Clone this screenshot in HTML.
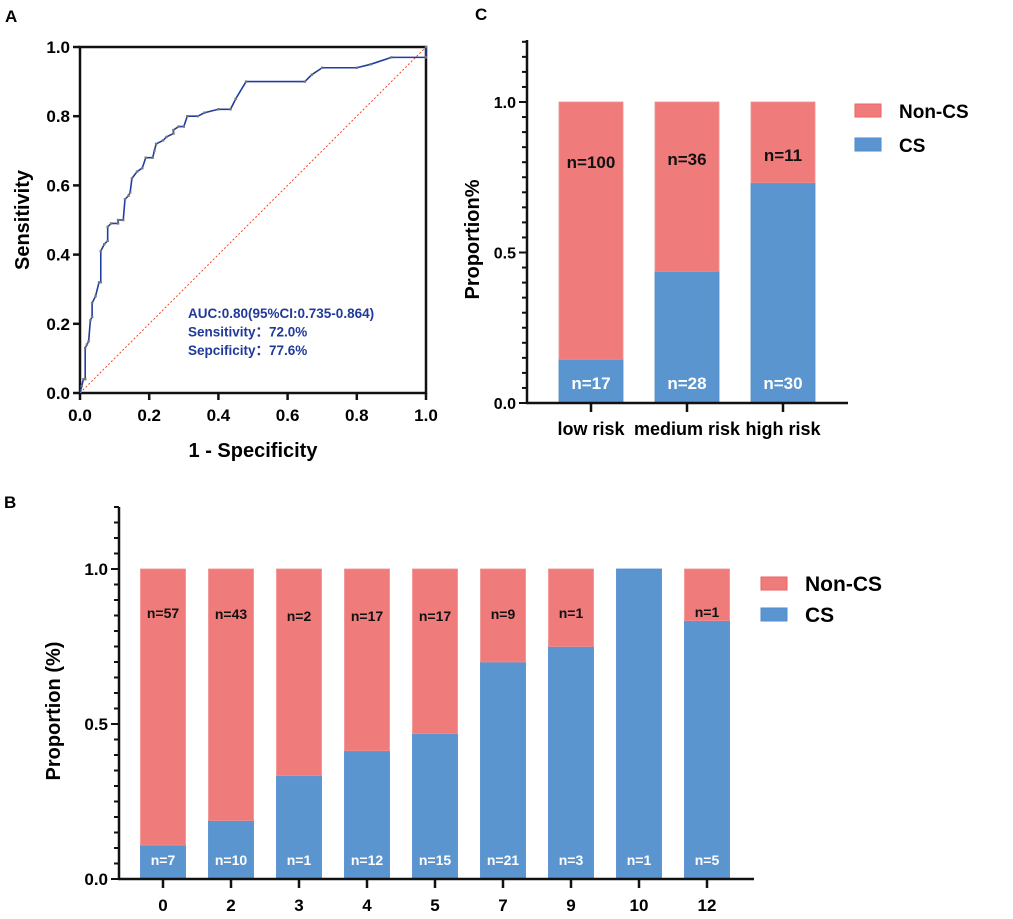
<!DOCTYPE html>
<html><head><meta charset="utf-8">
<style>
html,body{margin:0;padding:0;background:#fff;}
svg{display:block;font-family:"Liberation Sans",Arial,sans-serif;}
</style></head>
<body>
<svg id="fig" width="1013" height="919" viewBox="0 0 1013 919" xmlns="http://www.w3.org/2000/svg">
<g id="panelA"></g>
<g id="panelC"></g>
<g id="panelB"></g>
</svg>
<script>
// ROC data
const rocFpr = [0,0.005,0.01,0.015,0.015,0.02,0.025,0.03,0.035,0.035,0.045,0.055,0.06,0.06,0.07,0.08,0.08,0.09,0.11,0.11,0.125,0.13,0.14,0.145,0.15,0.165,0.18,0.19,0.21,0.215,0.22,0.24,0.25,0.27,0.27,0.285,0.3,0.31,0.34,0.36,0.4,0.435,0.45,0.48,0.65,0.67,0.7,0.8,0.84,0.9,1,1];
const rocTpr = [0,0.02,0.04,0.04,0.13,0.14,0.15,0.21,0.22,0.26,0.28,0.32,0.32,0.41,0.43,0.44,0.48,0.49,0.49,0.50,0.50,0.56,0.57,0.58,0.62,0.64,0.65,0.68,0.68,0.70,0.72,0.73,0.74,0.75,0.76,0.77,0.77,0.80,0.80,0.81,0.82,0.82,0.85,0.90,0.90,0.92,0.94,0.94,0.95,0.97,0.97,1];
const rocTicks = [0,0.2,0.4,0.6,0.8,1.0];
const rocTickLabels = ["0.0","0.2","0.4","0.6","0.8","1.0"];
// Panel C data
const riskCategories = ["low risk","medium risk","high risk"];
const riskCS = [17,28,30];
const riskNonCS = [100,36,11];
// Panel B data
const scoreCategories = ["0","2","3","4","5","7","9","10","12"];
const scoreCS = [7,10,1,12,15,21,3,1,5];
const scoreNonCS = [57,43,2,17,17,9,1,0,1];
const barTicks = [0,0.5,1.0];
const barTickLabels = ["0.0","0.5","1.0"];

const NS="http://www.w3.org/2000/svg";
function mk(parent,tag,attrs,text){const e=document.createElementNS(NS,tag);for(const k in attrs)e.setAttribute(k,attrs[k]);if(text!==undefined)e.textContent=text;parent.appendChild(e);return e;}
const RED="#ef7b7b", BLUE="#5b95cf";

// ---------- Panel A ----------
(function(){
  const g=document.getElementById('panelA');
  const x0=80,x1=426,y0=393,y1=47;
  const sx=v=>x0+v*(x1-x0), sy=v=>y0-v*(y0-y1);
  let t=mk(g,'text',{x:5,y:22,'font-size':17,'font-weight':'bold'},'A');
  
  
  let r=mk(g,'rect',{x:x0,y:y1,width:x1-x0,height:y0-y1,fill:'none',stroke:'#111','stroke-width':2.5});
  
  
  let d=mk(g,'line',{x1:sx(0),y1:sy(0),x2:sx(1),y2:sy(1),stroke:'#f04a2a','stroke-width':1,'stroke-dasharray':'2,2'});
  
  
  let pts=rocFpr.map((f,i)=>sx(f)+','+sy(rocTpr[i])).join(' ');
  let pl=mk(g,'polyline',{points:pts,fill:'none',stroke:'#1f3fa0','stroke-width':1.6});
  
  
  rocFpr.forEach((f,i)=>{
    let m=mk(g,'rect',{x:sx(f)-1.2,y:sy(rocTpr[i])-1.2,width:2.4,height:2.4,fill:'#777'});
    
    
  });
  rocTicks.forEach((v,i)=>{
    mk(g,'line',{x1:sx(v),y1:y0,x2:sx(v),y2:y0+7,stroke:'#111','stroke-width':2.5});
    let tx=mk(g,'text',{x:sx(v),y:y0+28,'text-anchor':'middle','font-size':17,'font-weight':'bold'},rocTickLabels[i]);
    
    
    mk(g,'line',{x1:x0-7,y1:sy(v),x2:x0,y2:sy(v),stroke:'#111','stroke-width':2.5});
    let ty=mk(g,'text',{x:x0-10,y:sy(v)+6,'text-anchor':'end','font-size':17,'font-weight':'bold'},rocTickLabels[i]);
    
    
  });
  let xt=mk(g,'text',{x:253,y:457,'text-anchor':'middle','font-size':20,'font-weight':'bold'},'1 - Specificity');
  
  
  let yt=mk(g,'text',{x:0,y:0,'text-anchor':'middle','font-size':20,'font-weight':'bold',transform:'translate(29,220) rotate(-90)'},'Sensitivity');
  
  
  const lines=['AUC:0.80(95%CI:0.735-0.864)','Sensitivity：72.0%','Sepcificity：77.6%'];
  lines.forEach((s,i)=>{
    let a=mk(g,'text',{x:188,y:318+i*18.5,'font-size':13.5,'font-weight':'bold',fill:'#1f3a9a'},s);
    
    
  });
})();

// ---------- Stacked bar helper ----------
function stacked(g,cfg){
  const {ax,y0,y1,xEnd,top,cats,cs,non,centers,bw,tickFont,catFont,legX,legY,legGap,legFont,ytitle,ytitleX,label,labelX,labelY,nFont,nonLabelY}=cfg;
  const sy=v=>y0-v*(y0-y1);
  let L=mk(g,'text',{x:labelX,y:labelY,'font-size':17,'font-weight':'bold'},label);
  
  
  cats.forEach((c,i)=>{
    const tot=cs[i]+non[i], p=cs[i]/tot, cx=centers[i];
    let rb=mk(g,'rect',{x:cx-bw/2,y:sy(p),width:bw,height:y0-sy(p),fill:BLUE,stroke:'#4f8ad0','stroke-width':0.8});
    
    
    if(non[i]>0){
      let rr=mk(g,'rect',{x:cx-bw/2,y:sy(1),width:bw,height:sy(p)-sy(1),fill:RED,stroke:'#f09090','stroke-width':0.8});
      
      
      let tn=mk(g,'text',{x:cx,y:nonLabelY[i],'text-anchor':'middle','font-size':nFont,'font-weight':'bold',fill:'#111'},'n='+non[i]);
      
      
    }
    let tc=mk(g,'text',{x:cx,y:y0-14,'text-anchor':'middle','font-size':nFont,'font-weight':'bold',fill:'#fff'},'n='+cs[i]);
    
    
    mk(g,'line',{x1:cx,y1:y0,x2:cx,y2:y0+9,stroke:'#111','stroke-width':2.5});
    let tl=mk(g,'text',{x:cx,y:y0+32,'text-anchor':'middle','font-size':catFont,'font-weight':'bold'},c);
    
    
  });
  let ya=mk(g,'line',{x1:ax,y1:top,x2:ax,y2:y0+1,stroke:'#111','stroke-width':2.5});
  
  
  let xa=mk(g,'line',{x1:ax-1,y1:y0,x2:xEnd,y2:y0,stroke:'#111','stroke-width':2.5});
  
  
  for(let k=0;k<=24;k++){
    const v=k*0.05, major=(k%10===0);
    mk(g,'line',{x1:ax-(major?8:5),y1:sy(v),x2:ax,y2:sy(v),stroke:'#111','stroke-width':2});
  }
  barTicks.forEach((v,i)=>{
    let t=mk(g,'text',{x:ax-11,y:sy(v)+6,'text-anchor':'end','font-size':tickFont,'font-weight':'bold'},barTickLabels[i]);
    
    
  });
  let yt=mk(g,'text',{x:0,y:0,'text-anchor':'middle','font-size':20,'font-weight':'bold',transform:`translate(${ytitleX},${(y0+top)/2+18}) rotate(-90)`},ytitle);
  
  
  let s1=mk(g,'rect',{x:legX,y:legY,width:26,height:13,fill:RED,stroke:'#ef6060','stroke-width':1});
  
  
  let l1=mk(g,'text',{x:legX+44,y:legY+14,'font-size':legFont,'font-weight':'bold'},'Non-CS');
  
  
  let s2=mk(g,'rect',{x:legX,y:legY+legGap,width:26,height:13,fill:BLUE,stroke:'#4f8ad0','stroke-width':1});
  
  
  let l2=mk(g,'text',{x:legX+44,y:legY+legGap+14,'font-size':legFont,'font-weight':'bold'},'CS');
  
  
}

stacked(document.getElementById('panelC'),{
  ax:527,y0:403,y1:102,xEnd:848,top:40,cats:riskCategories,cs:riskCS,non:riskNonCS,
  centers:[591,687,783],bw:64,tickFont:16,catFont:18,legX:855,legY:104,legGap:34,legFont:19,
  ytitle:'Proportion%',ytitleX:479,label:'C',labelX:475,labelY:20,nFont:17,nonLabelY:[168,165,161]
});
stacked(document.getElementById('panelB'),{
  ax:119,y0:879,y1:569,xEnd:754,top:507,cats:scoreCategories,cs:scoreCS,non:scoreNonCS,
  centers:[163,231,299,367,435,503,571,639,707],bw:45,tickFont:17,catFont:17,legX:761,legY:577,legGap:31,legFont:21,
  ytitle:'Proportion (%)',ytitleX:60,label:'B',labelX:4,labelY:508,nFont:14,nonLabelY:[618,619,621,621,621,619,618,618,617]
});
</script>
</body></html>
